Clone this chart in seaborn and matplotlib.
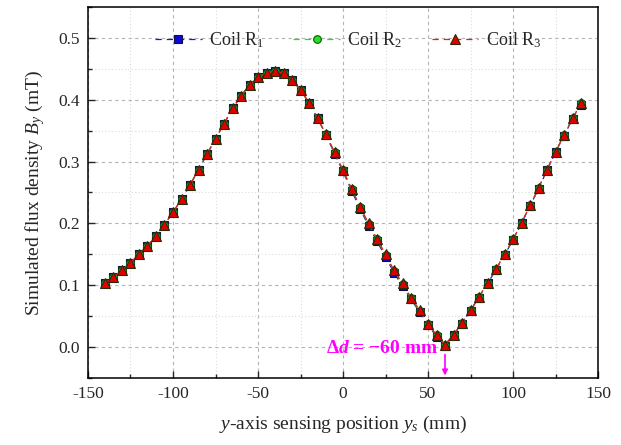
import numpy as np
import pandas as pd
import matplotlib
matplotlib.use('Agg')
import matplotlib.pyplot as plt
import seaborn as sns
from matplotlib.ticker import MultipleLocator

# y-axis sensing positions (mm)
POS = list(range(-140, 145, 5))

# Coil R3 simulated flux density (mT)
R3 = [0.103, 0.113, 0.124, 0.136, 0.150, 0.164, 0.180, 0.198, 0.218, 0.239,
      0.262, 0.287, 0.312, 0.337, 0.361, 0.386, 0.406, 0.424, 0.436, 0.444,
      0.446, 0.443, 0.432, 0.416, 0.395, 0.370, 0.344, 0.315, 0.286, 0.256,
      0.227, 0.200, 0.175, 0.150, 0.124, 0.103, 0.080, 0.060, 0.038, 0.019,
      0.004, 0.020, 0.039, 0.060, 0.081, 0.104, 0.126, 0.150, 0.174, 0.201,
      0.229, 0.257, 0.287, 0.316, 0.343, 0.370, 0.394]
# Coil R2 nearly identical to R3
R2 = [0.103, 0.113, 0.124, 0.136, 0.150, 0.164, 0.180, 0.198, 0.218, 0.239,
      0.262, 0.287, 0.312, 0.337, 0.361, 0.386, 0.406, 0.424, 0.436, 0.444,
      0.446, 0.443, 0.432, 0.416, 0.395, 0.370, 0.344, 0.315, 0.286, 0.256,
      0.227, 0.199, 0.174, 0.149, 0.123, 0.102, 0.079, 0.059, 0.038, 0.019,
      0.004, 0.020, 0.039, 0.060, 0.081, 0.104, 0.126, 0.150, 0.174, 0.201,
      0.229, 0.257, 0.287, 0.316, 0.343, 0.370, 0.394]
# Coil R1 sits a touch lower on the falling slope
R1 = [0.103, 0.113, 0.124, 0.136, 0.150, 0.164, 0.180, 0.198, 0.218, 0.239,
      0.262, 0.287, 0.312, 0.337, 0.361, 0.386, 0.406, 0.424, 0.436, 0.444,
      0.446, 0.443, 0.432, 0.416, 0.395, 0.370, 0.343, 0.313, 0.284, 0.253,
      0.224, 0.196, 0.171, 0.146, 0.120, 0.099, 0.077, 0.057, 0.036, 0.017,
      0.002, 0.019, 0.038, 0.059, 0.080, 0.103, 0.125, 0.149, 0.173, 0.200,
      0.228, 0.256, 0.286, 0.315, 0.342, 0.369, 0.392]

SERIES = ['Coil R$_\\mathregular{1}$', 'Coil R$_\\mathregular{2}$', 'Coil R$_\\mathregular{3}$']

sns.set_style('white')
plt.rcParams['font.family'] = ['Liberation Serif', 'DejaVu Serif']
plt.rcParams['mathtext.fontset'] = 'custom'
plt.rcParams['mathtext.rm'] = 'Liberation Serif'
plt.rcParams['mathtext.it'] = 'Liberation Serif:italic'
plt.rcParams['mathtext.bf'] = 'Liberation Serif:bold'
plt.rcParams['mathtext.bfit'] = 'Liberation Serif:bold:italic'
plt.rcParams['axes.unicode_minus'] = False

fig = plt.figure(figsize=(6.21, 4.45), dpi=100)
ax = fig.add_axes([0.1417, 0.1506, 0.8213, 0.8337])

styles = [
    dict(color='#1a1acc', marker='s', mfc='#0a0ad0', mec='#10104a', ms=6),
    dict(color='#22dd22', marker='o', mfc='#22e022', mec='#0a5a0a', ms=5.5),
    dict(color='#e02020', marker='^', mfc='#e00000', mec='#2a2a0a', ms=7.5),
]
for name, vals, st in zip(SERIES, [R1, R2, R3], styles):
    d = pd.DataFrame({'pos': POS, 'B': vals})
    sns.lineplot(data=d, x='pos', y='B', ax=ax, color=st['color'], lw=0.9, ls=(0, (5, 4)),
                 marker=st['marker'], markerfacecolor=st['mfc'], markeredgecolor=st['mec'],
                 markeredgewidth=0.8, markersize=st['ms'], label=name)

ax.set_xlim(-150, 150)
ax.set_ylim(-0.05, 0.55)
ax.xaxis.set_major_locator(MultipleLocator(50))
ax.xaxis.set_minor_locator(MultipleLocator(25))
ax.yaxis.set_major_locator(MultipleLocator(0.1))
ax.yaxis.set_minor_locator(MultipleLocator(0.05))
ax.yaxis.set_major_formatter(matplotlib.ticker.FormatStrFormatter('%.1f'))
ax.grid(True, which='major', ls=(0, (3, 3)), color='#b4b4b4', lw=0.8)
ax.grid(True, which='minor', ls=(0, (1, 2)), color='#dcdcdc', lw=0.8)
ax.set_axisbelow(True)
ax.tick_params(which='major', direction='in', length=5, width=1, labelsize=12.5,
               bottom=True, left=True, top=False, right=False, pad=6)
ax.tick_params(which='minor', direction='in', length=3, width=1,
               bottom=True, left=True, top=False, right=False)
for s in ax.spines.values():
    s.set_color('black')
    s.set_linewidth(1.1)

ax.set_xlabel('$y$-axis sensing position $y_s$ (mm)', fontsize=14, labelpad=8)
ax.set_ylabel('Simulated flux density $B_y$ (mT)', fontsize=14, labelpad=8)

ax.legend(loc='center', bbox_to_anchor=(0.51, 0.911), ncol=3, frameon=False,
          fontsize=13, handlelength=2.6, columnspacing=1.6, handletextpad=0.4)

ax.text(56, -0.002, '$\\mathbf{\\Delta}\\mathbfit{d}$ = \u221260 mm', color='#ff00ff',
        fontsize=14, fontweight='bold', ha='right', va='center')
ax.annotate('', xy=(60, -0.046), xytext=(60, -0.012),
            arrowprops=dict(arrowstyle='-|>', color='#ff00ff', lw=1.2,
                            mutation_scale=8, shrinkA=0, shrinkB=0))

fig.savefig('out.png', dpi=100)
